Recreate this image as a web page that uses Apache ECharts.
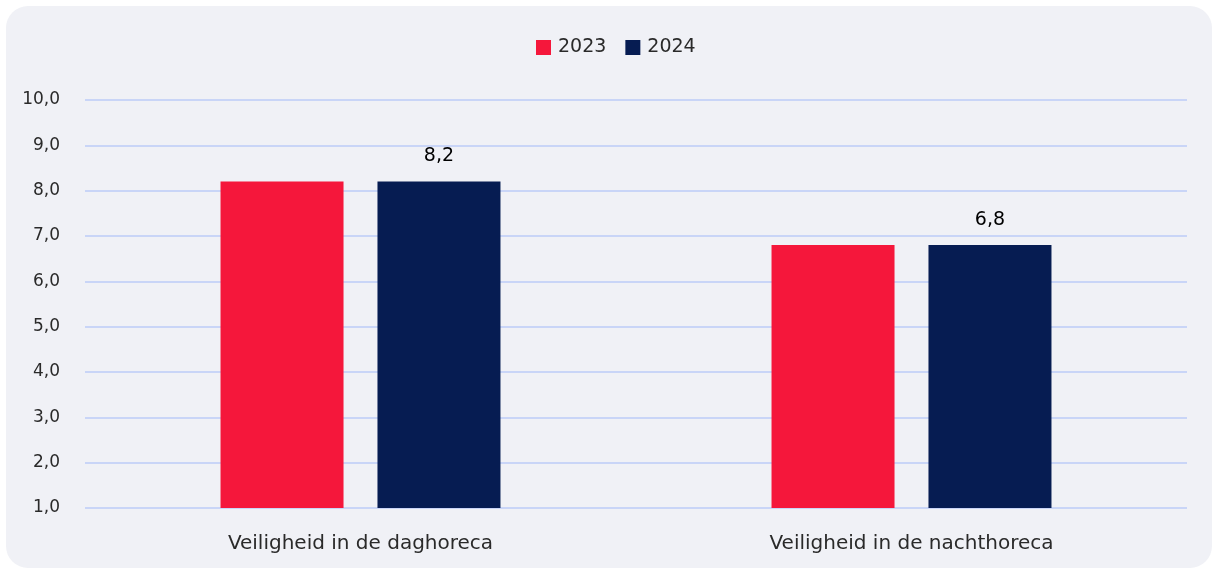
<!DOCTYPE html>
<html>
<head>
<meta charset="utf-8">
<script src="https://cdn.jsdelivr.net/npm/echarts@6/dist/echarts.min.js"></script>
<style>
  html, body { margin: 0; padding: 0; background: #ffffff; }
  #chart { width: 1213px; height: 569px; }
</style>
</head>
<body>
<div id="chart"></div>
<script>
// 数据
const categories = ['Veiligheid in de daghoreca', 'Veiligheid in de nachthoreca']
const seriesNames = ['2023', '2024']
const values2023 = [8.2, 6.8]
const values2024 = [8.2, 6.8]
const yMin = 1
const yMax = 10

const fmt = v => v.toFixed(1).replace('.', ',')
const font = '"DejaVu Sans", sans-serif'

const chart = echarts.init(document.getElementById('chart'))
chart.setOption({
  backgroundColor: '#ffffff',
  textStyle: { fontFamily: font },
  // 圆角背景
  graphic: [{
    type: 'rect',
    z: -10,
    silent: true,
    shape: { x: 6, y: 6, width: 1206, height: 562, r: 22 },
    style: { fill: '#f0f1f6' }
  }],
  legend: {
    top: 33,
    left: 531,
    icon: 'rect',
    itemWidth: 15,
    itemHeight: 15,
    itemGap: 19,
    itemStyle: { borderWidth: 0 },
    textStyle: { color: '#2a2a2a', fontSize: 19, fontFamily: font, padding: [0, 0, 0, 2] }
  },
  grid: { left: 85, right: 26, top: 100, bottom: 61, containLabel: false },
  xAxis: {
    type: 'category',
    data: categories,
    axisLine: { show: false },
    axisTick: { show: false },
    axisLabel: { color: '#2a2a2a', fontSize: 20, margin: 26, fontFamily: font }
  },
  yAxis: {
    type: 'value',
    min: yMin,
    max: yMax,
    interval: 1,
    axisLine: { show: false },
    axisTick: { show: false },
    axisLabel: { color: '#2a2a2a', fontSize: 17, margin: 25, formatter: fmt, fontFamily: font },
    splitLine: { lineStyle: { color: '#c9d5f7', width: 2 } }
  },
  series: [
    {
      name: seriesNames[0],
      type: 'bar',
      data: values2023,
      barWidth: 123,
      barGap: '27.6%',
      itemStyle: { color: '#f5173b' }
    },
    {
      name: seriesNames[1],
      type: 'bar',
      data: values2024,
      barWidth: 123,
      itemStyle: { color: '#061c52' },
      label: {
        show: true,
        position: 'top',
        distance: 16,
        color: '#000',
        fontSize: 19,
        fontFamily: font,
        formatter: p => fmt(p.value)
      }
    }
  ]
})
</script>
</body>
</html>
